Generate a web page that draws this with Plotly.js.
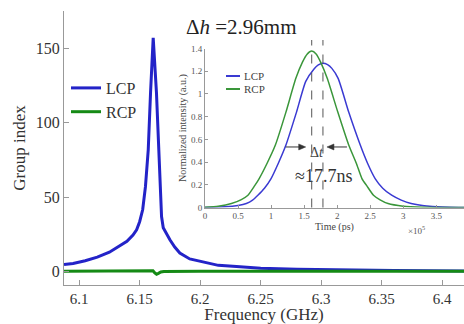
<!DOCTYPE html>
<html>
<head>
<meta charset="utf-8">
<script src="https://cdn.plot.ly/plotly-3.0.1.min.js"></script>
<style>html,body{margin:0;padding:0;background:#fff;}#chart{width:464px;height:324px;}</style>
</head>
<body>
<div id="chart"></div>
<script>
// Main chart: group index vs frequency (GHz)
const freqLCP = [6.0875, 6.095, 6.105, 6.115, 6.125, 6.1325, 6.1395, 6.1445, 6.1475, 6.150, 6.1525, 6.1548, 6.1571, 6.159, 6.1612, 6.1639, 6.1661, 6.1672, 6.1681, 6.1695, 6.1722, 6.175, 6.179, 6.1832, 6.1914, 6.200, 6.215, 6.230, 6.250, 6.280, 6.320, 6.360, 6.418];
const giLCP   = [4.7, 5.5, 7.3, 9.7, 13.0, 16.5, 20.3, 24.5, 28.1, 33.5, 41.5, 57, 81.7, 120, 157, 120, 81.7, 55, 37, 29.5, 25, 21.4, 16.5, 12.5, 8.5, 6.8, 4.2, 3.4, 2.2, 1.6, 1.0, 0.7, 0.45];
const freqRCP = [6.0875, 6.150, 6.155, 6.1585, 6.161, 6.1625, 6.164, 6.1655, 6.1675, 6.170, 6.200, 6.418];
const giRCP   = [0.3, 0.4, 0.7, 0.9, 0.5, -0.8, -1.8, -1.2, -0.3, 0.1, 0.3, 0.3];

// Inset: normalized intensity vs time (x 1e5 ps)
const timeLCP = [0, 0.3, 0.5, 0.625, 0.72, 0.8, 0.9, 1.0, 1.11, 1.225, 1.385, 1.525, 1.65, 1.715, 1.785, 1.855, 1.92, 2.015, 2.175, 2.35, 2.46, 2.575, 2.69, 2.825, 2.97, 3.12, 3.4, 3.7, 3.92];
const intLCP  = [0.001, 0.006, 0.018, 0.035, 0.065, 0.108, 0.17, 0.255, 0.39, 0.55, 0.84, 1.11, 1.22, 1.255, 1.27, 1.258, 1.225, 1.137, 0.84, 0.55, 0.39, 0.255, 0.17, 0.108, 0.065, 0.035, 0.01, 0.002, 0];
const timeRCP = [0, 0.2, 0.4, 0.55, 0.65, 0.75, 0.82, 0.94, 1.065, 1.225, 1.375, 1.475, 1.545, 1.615, 1.685, 1.75, 1.85, 2.01, 2.175, 2.29, 2.375, 2.45, 2.55, 2.65, 2.77, 3.0, 3.3, 3.6, 3.92];
const intRCP  = [0.003, 0.012, 0.035, 0.07, 0.108, 0.19, 0.255, 0.39, 0.55, 0.84, 1.137, 1.28, 1.35, 1.377, 1.35, 1.28, 1.137, 0.84, 0.55, 0.39, 0.255, 0.19, 0.108, 0.068, 0.035, 0.012, 0.003, 0.001, 0];

const mainXTicks = [6.1, 6.15, 6.2, 6.25, 6.3, 6.35, 6.4];
const mainXLabels = ['6.1', '6.15', '6.2', '6.25', '6.3', '6.35', '6.4'];
const mainYTicks = [0, 50, 100, 150];
const insetXTicks = [0, 0.5, 1, 1.5, 2, 2.5, 3, 3.5];
const insetXLabels = ['0', '0.5', '1', '1.5', '2', '2.5', '3', '3.5'];
const insetYTicks = [0, 0.2, 0.4, 0.6, 0.8, 1, 1.2, 1.4];
const insetYLabels = ['0', '0.2', '0.4', '0.6', '0.8', '1', '1.2', '1.4'];
const seriesNames = ['LCP', 'RCP'];
const titleText = 'Δ<i>h</i> =2.96mm';
const deltaText = 'Δ<i>t</i>';
const delayText = '≈17.7ns';
const arrowLevel = 0.533;

const FONT = '"Liberation Serif", "Times New Roman", Times, serif';
const BLUE = '#2323c8', GREEN = '#158a15';
const IBLUE = '#3a3ad2', IGREEN = '#3a963a';
const AX = '#999';

// pixel -> paper helpers (plot area: x 64..464, y 11..285)
const M = {l: 64, r: 0, t: 11, b: 39};
const PW = 464 - M.l - M.r, PH = 324 - M.t - M.b;
const px = v => (v - M.l) / PW;
const py = v => (324 - M.b - v) / PH;

const peakT = (t, v) => t[v.indexOf(Math.max(...v))];
const tR = peakT(timeRCP, intRCP), tL = peakT(timeLCP, intLCP);

const traces = [
  {x: freqLCP, y: giLCP, name: seriesNames[0], type: 'scatter', mode: 'lines', line: {color: BLUE, width: 3}, xaxis: 'x', yaxis: 'y'},
  {x: freqRCP, y: giRCP, name: seriesNames[1], type: 'scatter', mode: 'lines', line: {color: GREEN, width: 3}, xaxis: 'x', yaxis: 'y'},
  {x: timeLCP, y: intLCP, name: seriesNames[0], type: 'scatter', mode: 'lines', line: {color: IBLUE, width: 1.5, shape: 'spline', smoothing: 0.6}, xaxis: 'x2', yaxis: 'y2', showlegend: false},
  {x: timeRCP, y: intRCP, name: seriesNames[1], type: 'scatter', mode: 'lines', line: {color: IGREEN, width: 1.5, shape: 'spline', smoothing: 0.6}, xaxis: 'x2', yaxis: 'y2', showlegend: false}
];

const arrowLine = (anchor, a, b) => ({type: 'line', xref: 'x2', yref: 'y2', xsizemode: 'pixel', xanchor: anchor, x0: a, x1: b, y0: arrowLevel, y1: arrowLevel, line: {color: '#333', width: 1}});
const arrowHead = (anchor, path) => ({type: 'path', xref: 'x2', yref: 'y2', xsizemode: 'pixel', ysizemode: 'pixel', xanchor: anchor, yanchor: arrowLevel, path: path, fillcolor: '#333', line: {color: '#333', width: 0.5}});

const layout = {
  width: 464, height: 324,
  margin: M,
  paper_bgcolor: '#fff', plot_bgcolor: '#fff',
  font: {family: FONT, color: '#333'},
  showlegend: true,
  legend: {x: px(66), y: py(71), xanchor: 'left', yanchor: 'top', bgcolor: 'rgba(0,0,0,0)', font: {family: FONT, size: 16, color: '#333'}, tracegroupgap: 0},
  xaxis: {
    domain: [0, 1], anchor: 'y', range: [6.0875, 6.418],
    tickmode: 'array', tickvals: mainXTicks, ticktext: mainXLabels,
    ticks: 'inside', ticklen: 5, tickcolor: AX, showline: true, linecolor: AX, linewidth: 1,
    showgrid: false, zeroline: false, mirror: false,
    tickfont: {family: FONT, size: 15, color: '#333'},
    title: {text: 'Frequency (GHz)', font: {family: FONT, size: 17, color: '#333'}, standoff: 8}
  },
  yaxis: {
    domain: [0, 1], anchor: 'x', range: [-9, 175],
    tickmode: 'array', tickvals: mainYTicks,
    ticks: 'inside', ticklen: 5, tickcolor: AX, showline: true, linecolor: AX, linewidth: 1,
    showgrid: false, zeroline: false,
    tickfont: {family: FONT, size: 16, color: '#333'},
    title: {text: 'Group index', font: {family: FONT, size: 17, color: '#333'}, standoff: 5}
  },
  xaxis2: {
    domain: [px(205), 1], anchor: 'y2', range: [0, 3.92],
    tickmode: 'array', tickvals: insetXTicks, ticktext: insetXLabels,
    ticks: 'inside', ticklen: 3, tickcolor: AX, showline: true, linecolor: AX, linewidth: 1,
    showgrid: false, zeroline: false,
    tickfont: {family: FONT, size: 9, color: '#555'},
    title: {text: 'Time (ps)', font: {family: FONT, size: 10, color: '#444'}, standoff: 2}
  },
  yaxis2: {
    domain: [py(207.5), py(48.5)], anchor: 'x2', range: [0, 1.4],
    tickmode: 'array', tickvals: insetYTicks, ticktext: insetYLabels,
    ticks: 'inside', ticklen: 3, tickcolor: AX, showline: true, linecolor: AX, linewidth: 1,
    showgrid: false, zeroline: false,
    tickfont: {family: FONT, size: 9, color: '#555'},
    title: {text: 'Normalized intensity (a.u.)', font: {family: FONT, size: 10, color: '#444'}, standoff: 2}
  },
  shapes: [
    {type: 'line', xref: 'x2', yref: 'paper', x0: tR, x1: tR, y0: py(207.5), y1: py(40), line: {color: '#555', width: 1, dash: 'dash'}},
    {type: 'line', xref: 'x2', yref: 'paper', x0: tL, x1: tL, y0: py(207.5), y1: py(40), line: {color: '#555', width: 1, dash: 'dash'}},
    {type: 'line', xref: 'paper', yref: 'paper', x0: px(226), x1: px(240), y0: py(76), y1: py(76), line: {color: IBLUE, width: 2}},
    {type: 'line', xref: 'paper', yref: 'paper', x0: px(226), x1: px(240), y0: py(89), y1: py(89), line: {color: IGREEN, width: 2}},
    arrowLine(tR, -26, -10),
    arrowHead(tR, 'M-6,0 L-13,3 L-13,-3 Z'),
    arrowLine(tL, 8, 24),
    arrowHead(tL, 'M4,0 L11,3 L11,-3 Z')
  ],
  annotations: [
    {xref: 'paper', yref: 'paper', x: px(241.5), y: py(27), text: titleText, showarrow: false, xanchor: 'center', yanchor: 'middle', font: {family: FONT, size: 21, color: '#222'}},
    {xref: 'paper', yref: 'paper', x: px(242), y: py(76), text: seriesNames[0], showarrow: false, xanchor: 'left', yanchor: 'middle', font: {family: FONT, size: 11, color: '#444'}},
    {xref: 'paper', yref: 'paper', x: px(242), y: py(89), text: seriesNames[1], showarrow: false, xanchor: 'left', yanchor: 'middle', font: {family: FONT, size: 11, color: '#444'}},
    {xref: 'x2', yref: 'y2', x: (tR + tL) / 2, y: 0.48, text: deltaText, showarrow: false, font: {family: FONT, size: 14, color: '#444'}},
    {xref: 'x2', yref: 'y2', x: (tR + tL) / 2 + 0.1, y: 0.277, text: delayText, showarrow: false, font: {family: FONT, size: 18, color: '#333'}},
    {xref: 'paper', yref: 'paper', x: px(406), y: py(230), text: '×10<sup>5</sup>', showarrow: false, xanchor: 'left', yanchor: 'middle', font: {family: FONT, size: 9, color: '#555'}}
  ]
};

Plotly.newPlot('chart', traces, layout, {staticPlot: true, displayModeBar: false});
</script>
</body>
</html>
